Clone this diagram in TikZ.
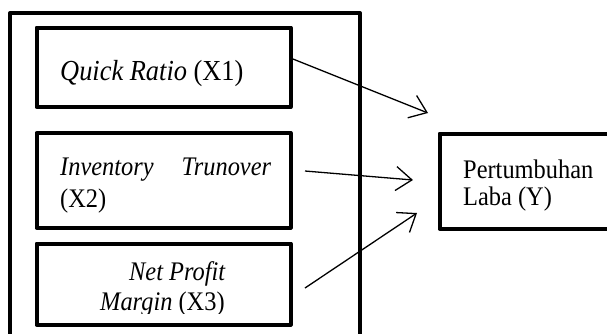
\documentclass[tikz,border=0pt]{standalone}
\usepackage{fontspec}
\setmainfont{Liberation Serif}
\usetikzlibrary{arrows.meta}
% text set slightly taller than wide
\newcommand\tallbox[1]{\scalebox{1}[1.1]{#1}}
\begin{document}
\begin{tikzpicture}[x=1pt,y=-1pt,
  frame/.style={draw=black, line width=4pt, line join=round, rectangle, inner sep=0pt},
  lbl/.style={anchor=base west, inner sep=0pt, font=\fontsize{24.4}{28}\selectfont},
  biglbl/.style={lbl, font=\fontsize{26.4}{30}\selectfont},
  link/.style={draw=black, line width=1.3pt,
    -{Straight Barb[length=16pt,width=24pt,line width=1.3pt]}}]
\useasboundingbox (0,0) rectangle (607,333);
\clip (0,0) rectangle (607,333);

% outer frame around the independent variables
\node[frame, minimum width=350pt, minimum height=332pt] (outer) at (185,179) {};

% independent variable boxes
\node[frame, minimum width=254pt, minimum height=79.5pt] (x1) at (163.5,67.25) {};
\node[frame, minimum width=254pt, minimum height=94.5pt] (x2) at (163.5,180.25) {};
\node[frame, minimum width=254pt, minimum height=81pt] (x3) at (163.5,284) {};

% dependent variable box
\node[frame, minimum width=200.5pt, minimum height=95pt] (y) at (539.75,181) {};

% labels
\node[biglbl] (t1) at (60,80) {\tallbox{\textit{Quick Ratio} (X1)}};
\node[lbl] (t2a) at (60,175) {\tallbox{\hbox to 211pt{\textit{Inventory}\hfill\textit{Trunover}}}};
\node[lbl] (t2b) at (60,207) {\tallbox{(X2)}};
\node[lbl] (t3a) at (129,280) {\tallbox{\textit{Net Profit}}};
\begin{scope}
  \clip (40,240) rectangle (290,313);
  \node[lbl] (t3b) at (100,310) {\tallbox{\textit{Margin} (X3)}};
\end{scope}
\node[lbl] (ty1) at (463,178) {\tallbox{Pertumbuhan}};
\node[lbl] (ty2) at (463,205) {\tallbox{Laba (Y)}};

% arrows
\coordinate (s1) at (293,59);
\coordinate (e1) at (428,113);
\coordinate (s2) at (305,171);
\coordinate (e2) at (413,180);
\coordinate (s3) at (305,288);
\coordinate (e3) at (417,213);
\draw[link] (s1) -- (e1);
\draw[link] (s2) -- (e2);
\draw[link] (s3) -- (e3);
\end{tikzpicture}
\end{document}
